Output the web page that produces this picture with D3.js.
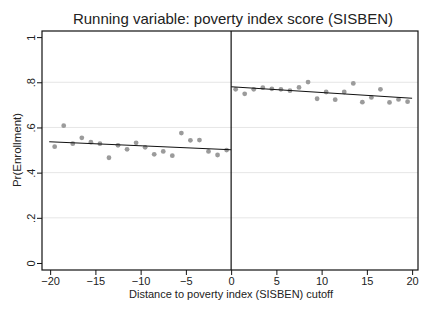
<!DOCTYPE html>
<html>
<head>
<meta charset="utf-8">
<script src="https://cdn.jsdelivr.net/npm/d3@7"></script>
<style>
  body { margin: 0; background: #fff; }
  text { font-family: "Liberation Sans", Arial, sans-serif; fill: #222; }
</style>
</head>
<body>
<div id="chart"></div>
<script>
// binned means, left of cutoff
const leftX = [-19.5, -18.5, -17.5, -16.5, -15.5, -14.5, -13.5, -12.5, -11.5, -10.5,
               -9.5, -8.5, -7.5, -6.5, -5.5, -4.5, -3.5, -2.5, -1.5, -0.5];
const leftY = [0.515, 0.608, 0.528, 0.554, 0.535, 0.528, 0.466, 0.521, 0.503, 0.532,
               0.512, 0.481, 0.494, 0.475, 0.575, 0.543, 0.544, 0.494, 0.478, 0.500];
// binned means, right of cutoff
const rightX = [0.5, 1.5, 2.5, 3.5, 4.5, 5.5, 6.5, 7.5, 8.5, 9.5,
                10.5, 11.5, 12.5, 13.5, 14.5, 15.5, 16.5, 17.5, 18.5, 19.5];
const rightY = [0.769, 0.749, 0.769, 0.776, 0.771, 0.769, 0.763, 0.777, 0.801, 0.727,
                0.757, 0.723, 0.757, 0.795, 0.712, 0.733, 0.769, 0.711, 0.724, 0.714];
// fitted lines [x, y]
const leftFit = [[-20.1, 0.537], [0, 0.501]];
const rightFit = [[0, 0.780], [20, 0.729]];

const xTicks = [-20, -15, -10, -5, 0, 5, 10, 15, 20];
const yTicks = [0, 0.2, 0.4, 0.6, 0.8, 1];
const yTickLabels = ["0", ".2", ".4", ".6", ".8", "1"];

const W = 430, H = 313;
const margin = { top: 31, right: 12, bottom: 43, left: 42 };

const svg = d3.select("#chart").append("svg")
    .attr("width", W).attr("height", H);

const x = d3.scaleLinear().domain([-20.9, 20.65]).range([margin.left, W - margin.right]);
const y = d3.scaleLinear().domain([-0.031, 1.027]).range([H - margin.bottom, margin.top]);

// gridlines
svg.append("g")
    .selectAll("line")
    .data(yTicks.filter(d => d > 0 && d < 1))
    .enter().append("line")
    .attr("x1", margin.left).attr("x2", W - margin.right)
    .attr("y1", d => y(d)).attr("y2", d => y(d))
    .attr("stroke", "#e6e6e6").attr("stroke-width", 1);

// points
const pts = leftX.map((v, i) => [v, leftY[i]]).concat(rightX.map((v, i) => [v, rightY[i]]));
svg.append("g")
    .selectAll("circle")
    .data(pts)
    .enter().append("circle")
    .attr("cx", d => x(d[0]))
    .attr("cy", d => y(d[1]))
    .attr("r", 2.4)
    .attr("fill", "#9b9b9b");

// fit lines
const line = d3.line().x(d => x(d[0])).y(d => y(d[1]));
[leftFit, rightFit].forEach(f => {
  svg.append("path").attr("d", line(f))
      .attr("fill", "none").attr("stroke", "#111").attr("stroke-width", 1.1);
});

// cutoff line
svg.append("line")
    .attr("x1", x(0)).attr("x2", x(0))
    .attr("y1", margin.top).attr("y2", H - margin.bottom)
    .attr("stroke", "#111").attr("stroke-width", 1.2);

// frame
svg.append("rect")
    .attr("x", margin.left).attr("y", margin.top)
    .attr("width", W - margin.left - margin.right)
    .attr("height", H - margin.top - margin.bottom)
    .attr("fill", "none").attr("stroke", "#111").attr("stroke-width", 1.2);

// x axis
const xAxis = svg.append("g")
    .attr("transform", `translate(0,${H - margin.bottom})`)
    .call(d3.axisBottom(x).tickValues(xTicks).tickSize(5).tickPadding(2)
      .tickFormat(d => d < 0 ? "\u2212" + Math.abs(d) : d));
xAxis.select(".domain").remove();
xAxis.selectAll("line").attr("stroke", "#111");
xAxis.selectAll("text").style("font-size", "11px").attr("font-family", "Liberation Sans, Arial, sans-serif");

// y axis
const yAxis = svg.append("g")
    .attr("transform", `translate(${margin.left},0)`)
    .call(d3.axisLeft(y).tickValues(yTicks).tickSize(5).tickFormat((d, i) => yTickLabels[i]));
yAxis.select(".domain").remove();
yAxis.selectAll("line").attr("stroke", "#111");
yAxis.selectAll("text")
    .attr("x", 0).attr("dy", null)
    .attr("transform", "translate(-7,0) rotate(-90)")
    .attr("text-anchor", "middle")
    .style("font-size", "11px")
    .attr("font-family", "Liberation Sans, Arial, sans-serif");

// title
svg.append("text")
    .attr("x", 233).attr("y", 24)
    .attr("text-anchor", "middle")
    .style("font-size", "15px")
    .text("Running variable: poverty index score (SISBEN)");

// axis titles
svg.append("text")
    .attr("x", 231).attr("y", 298)
    .attr("text-anchor", "middle")
    .style("font-size", "11px")
    .text("Distance to poverty index (SISBEN) cutoff");

svg.append("text")
    .attr("transform", "translate(21,150) rotate(-90)")
    .attr("text-anchor", "middle")
    .style("font-size", "11.5px")
    .text("Pr(Enrollment)");
</script>
</body>
</html>
